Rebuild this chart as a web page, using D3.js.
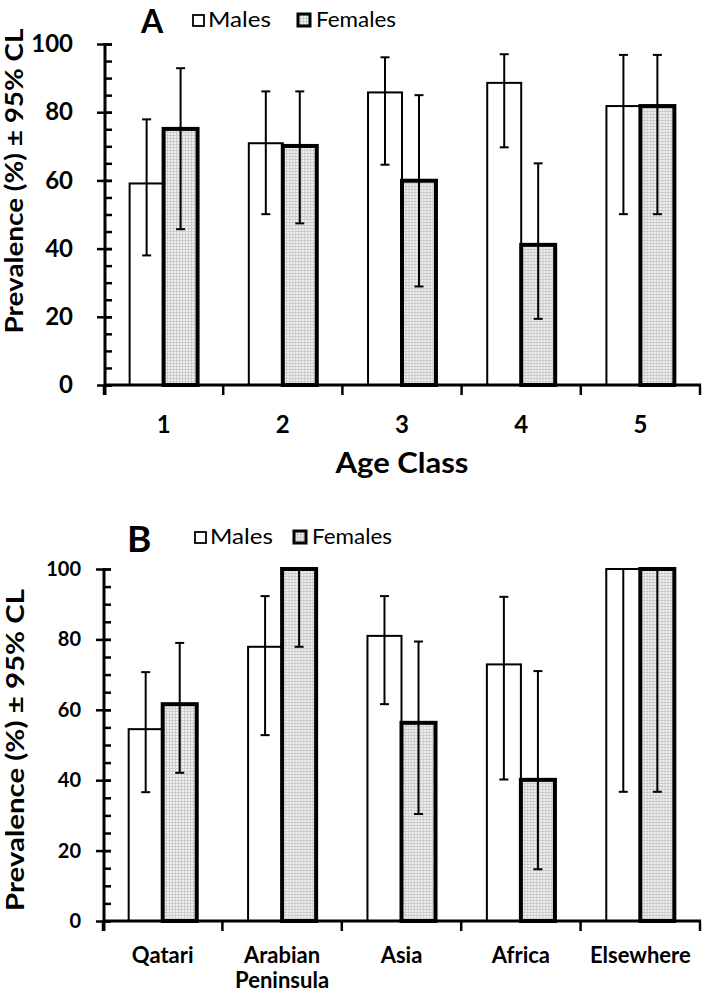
<!DOCTYPE html>
<html>
<head>
<meta charset="utf-8">
<script src="https://cdn.jsdelivr.net/npm/d3@7"></script>
<style>
  html, body { margin: 0; padding: 0; background: #fff; }
  svg { display: block; }
  text { font-family: Lato, "Open Sans", sans-serif; fill: #000; }
</style>
</head>
<body>
<svg id="chart" width="705" height="994"></svg>
<script>
// ---------------- DATA ----------------
const ageClasses = ["1", "2", "3", "4", "5"];
const maleA     = [59.1, 70.9, 85.8, 88.6, 81.8];
const maleA_lo  = [38.0, 50.1, 64.6, 69.7, 50.1];
const maleA_hi  = [77.9, 86.1, 96.1, 97.0, 96.8];
const femaleA    = [75.1, 70.1, 59.9, 41.1, 81.8];
const femaleA_lo = [45.7, 47.4, 28.9, 19.4, 50.1];
const femaleA_hi = [92.9, 86.1, 85.0, 65.0, 96.8];

const regions = ["Qatari", "Arabian Peninsula", "Asia", "Africa", "Elsewhere"];
const maleB     = [54.5, 77.9, 81.0, 72.9, 100];
const maleB_lo  = [36.6, 52.8, 61.6, 40.2, 36.7];
const maleB_hi  = [70.7, 92.3, 92.3, 92.1, 100];
const femaleB    = [61.6, 100, 56.3, 40.1, 100];
const femaleB_lo = [42.1, 77.9, 30.4, 14.7, 36.7];
const femaleB_hi = [79.0, 100, 79.4, 71.0, 100];

const majorTicks = [0, 20, 40, 60, 80, 100];
const minorTicks = d3.range(0, 101, 5);
const seriesNames = ["Males", "Females"];
const yTitle = "Prevalence (%) \u00B1 95% CL";

// ---------------- DRAW ----------------
const svg = d3.select("#chart");
svg.append("rect").attr("width", 705).attr("height", 994).attr("fill", "#fff");

const defs = svg.append("defs");
const pat = defs.append("pattern").attr("id", "grid")
  .attr("width", 3).attr("height", 3).attr("patternUnits", "userSpaceOnUse");
pat.append("rect").attr("width", 3).attr("height", 3).attr("fill", "#f0f0f0");
pat.append("rect").attr("width", 3).attr("height", 1).attr("fill", "#cbcbcb");
pat.append("rect").attr("width", 1).attr("height", 3).attr("fill", "#cbcbcb");

function panel(opts) {
  const g = svg.append("g");
  const x = d3.scaleBand().domain(opts.cats).range([opts.x0, opts.x1]).paddingInner(0).paddingOuter(0);
  const y = d3.scaleLinear().domain([0, 100]).range([opts.yBottom, opts.yTop]);
  const bw = x.bandwidth();
  const sub = d3.scaleBand().domain(seriesNames).range([bw / 2 - bw * 0.285, bw / 2 + bw * 0.285]);

  const rows = opts.cats.map((c, i) => ({
    cat: c,
    vals: [
      { s: "Males", v: opts.m[i], lo: opts.mlo[i], hi: opts.mhi[i] },
      { s: "Females", v: opts.f[i], lo: opts.flo[i], hi: opts.fhi[i] }
    ]
  }));

  // bars
  const grp = g.selectAll("g.cat").data(rows).join("g")
    .attr("transform", d => `translate(${x(d.cat)},0)`);
  grp.selectAll("rect.bar").data(d => d.vals).join("rect")
    .attr("x", d => sub(d.s))
    .attr("width", sub.bandwidth())
    .attr("y", d => y(d.v))
    .attr("height", d => y(0) - y(d.v))
    .attr("fill", d => d.s === "Males" ? "#fff" : "url(#grid)")
    .attr("stroke", "#000")
    .attr("stroke-width", d => d.s === "Males" ? 2 : 4);

  // error bars
  const eb = grp.selectAll("g.err").data(d => d.vals).join("g")
    .attr("transform", d => `translate(${sub(d.s) + sub.bandwidth() / 2},0)`);
  eb.append("line").attr("x1", 0).attr("x2", 0)
    .attr("y1", d => y(d.hi)).attr("y2", d => y(d.lo))
    .attr("stroke", "#000").attr("stroke-width", 2);
  eb.append("line").attr("x1", -4.5).attr("x2", 4.5)
    .attr("y1", d => y(d.hi)).attr("y2", d => y(d.hi))
    .attr("stroke", "#000").attr("stroke-width", 2);
  eb.append("line").attr("x1", -4.5).attr("x2", 4.5)
    .attr("y1", d => y(d.lo)).attr("y2", d => y(d.lo))
    .attr("stroke", "#000").attr("stroke-width", 2);

  // y axis: major ticks (crossing) with labels
  const yAx = g.append("g").attr("transform", `translate(${opts.x0 + 1},0)`);
  yAx.call(d3.axisLeft(y).tickValues(majorTicks).tickSize(8).tickPadding(opts.yLabPad).tickFormat(d3.format("d")));
  yAx.selectAll(".tick line").attr("x2", -8).attr("x1", 7).attr("stroke-width", 2.5);
  yAx.selectAll("text").attr("font-family", "Lato").attr("font-weight", "bold")
    .attr("font-size", opts.yLabSize).attr("fill", "#000");
  yAx.select(".domain").remove();
  // minor ticks inside
  const yMin = g.append("g").attr("transform", `translate(${opts.x0 + 1},0)`);
  yMin.call(d3.axisRight(y).tickValues(minorTicks).tickSize(7).tickFormat(""));
  yMin.selectAll(".tick line").attr("stroke-width", 2.5);
  yMin.select(".domain").remove();
  g.append("line").attr("x1", opts.x0 + 1).attr("x2", opts.x0 + 1)
    .attr("y1", y(100) - 1).attr("y2", y(0) + 10)
    .attr("stroke", "#000").attr("stroke-width", 3);

  // x axis
  const edges = opts.cats.map(c => x(c)).concat([opts.x1]);
  g.selectAll("line.xt").data(edges).join("line")
    .attr("x1", d => d).attr("x2", d => d)
    .attr("y1", y(0)).attr("y2", y(0) + 10)
    .attr("stroke", "#000").attr("stroke-width", 2.5);
  g.append("line").attr("x1", opts.x0).attr("x2", opts.x1 + 1)
    .attr("y1", y(0)).attr("y2", y(0))
    .attr("stroke", "#000").attr("stroke-width", 3);

  const xAx = g.append("g").attr("transform", `translate(0,${y(0)})`);
  xAx.call(d3.axisBottom(x).tickSize(0).tickPadding(0));
  xAx.select(".domain").remove();
  xAx.selectAll("text").each(function (d) {
    const t = d3.select(this);
    t.text(null).attr("y", opts.xLabDy).attr("dy", 0)
      .attr("font-family", "Lato").attr("font-weight", "bold")
      .attr("font-size", opts.xLabSize).attr("fill", "#000");
    const parts = opts.wrap ? d.split(" ") : [d];
    parts.forEach((p, k) => {
      t.append("tspan").attr("x", 0).attr("y", opts.xLabDy + k * opts.xLabSize * 1.12).text(p);
    });
  });

  // y title
  g.append("text")
    .attr("transform", `translate(${opts.yTitleX},${opts.yTitleY}) rotate(-90)`)
    .attr("text-anchor", "middle")
    .attr("font-weight", "bold").attr("font-size", opts.yTitleSize)
    .attr("textLength", opts.yTitleLen).attr("lengthAdjust", "spacingAndGlyphs")
    .text(yTitle);

  // panel letter
  g.append("text").attr("x", opts.letterX).attr("y", opts.letterY)
    .attr("font-family", "Liberation Sans, Arial, sans-serif")
    .attr("font-weight", "bold").attr("font-size", opts.letterSize)
    .text(opts.letter);

  // legend
  const lg = g.append("g");
  lg.append("rect").attr("x", opts.legX[0]).attr("y", opts.legY - 12).attr("width", 11).attr("height", 11)
    .attr("fill", "#fff").attr("stroke", "#000").attr("stroke-width", 1.8);
  lg.append("text").attr("x", opts.legX[0] + 15).attr("y", opts.legY)
    .attr("font-size", 22).attr("textLength", 63).attr("lengthAdjust", "spacingAndGlyphs").text(seriesNames[0]);
  lg.append("rect").attr("x", opts.legX[1]).attr("y", opts.legY - 13).attr("width", 12).attr("height", 12)
    .attr("fill", "url(#grid)").attr("stroke", "#000").attr("stroke-width", 3);
  lg.append("text").attr("x", opts.legX[1] + 18).attr("y", opts.legY)
    .attr("font-size", 22).attr("textLength", 80).attr("lengthAdjust", "spacingAndGlyphs").text(seriesNames[1]);

  return { x, y };
}

// Panel A
panel({
  cats: ageClasses, m: maleA, mlo: maleA_lo, mhi: maleA_hi, f: femaleA, flo: femaleA_lo, fhi: femaleA_hi,
  x0: 104, x1: 700, yTop: 44, yBottom: 385,
  yLabPad: 24, yLabSize: 24, xLabDy: 48, xLabSize: 24, wrap: false,
  yTitleX: 23, yTitleY: 181, yTitleSize: 24, yTitleLen: 305,
  letter: "A", letterX: 141, letterY: 33, letterSize: 32,
  legX: [193, 298], legY: 27
});
svg.append("text").attr("x", 402).attr("y", 473).attr("text-anchor", "middle")
  .attr("font-weight", "bold").attr("font-size", 29).attr("textLength", 133)
  .attr("lengthAdjust", "spacingAndGlyphs").text("Age Class");

// Panel B
panel({
  cats: regions, m: maleB, mlo: maleB_lo, mhi: maleB_hi, f: femaleB, flo: femaleB_lo, fhi: femaleB_hi,
  x0: 103, x1: 700, yTop: 569, yBottom: 921,
  yLabPad: 15, yLabSize: 20, xLabDy: 42, xLabSize: 22, wrap: true,
  yTitleX: 24, yTitleY: 750, yTitleSize: 24, yTitleLen: 322,
  letter: "B", letterX: 127, letterY: 552, letterSize: 37,
  legX: [195, 294], legY: 544
});
</script>
</body>
</html>
